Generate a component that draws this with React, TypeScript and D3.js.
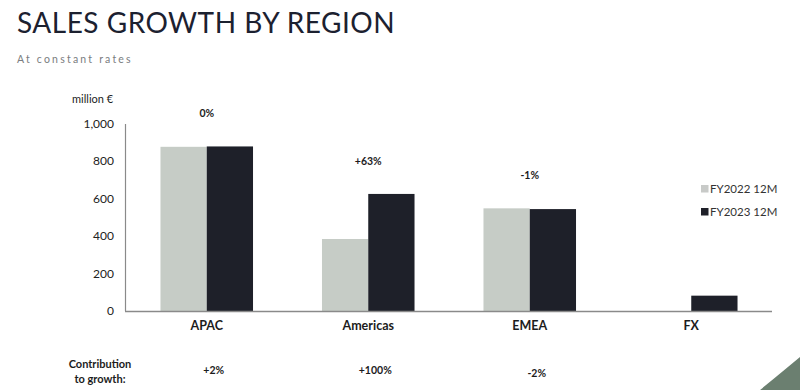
import React from "react";
import * as d3 from "d3";

const categories = ["APAC", "Americas", "EMEA", "FX"];
const series = ["FY2022 12M", "FY2023 12M"];
const fy2022 = [878, 385, 549, 0];
const fy2023 = [880, 626, 545, 82];
const growthLabels = ["0%", "+63%", "-1%", ""];
const contributionLabels = ["+2%", "+100%", "-2%", ""];
const yTicks = [0, 200, 400, 600, 800, 1000];

const W = 800;
const H = 390;
const FONT = "Lato, 'Noto Sans', sans-serif";
const colors = ["#c6ccc6", "#1e2029"];

export default function App() {
  const x0 = d3.scaleBand<string>().domain(categories).range([126, 772]).paddingInner(0.427).paddingOuter(0.2135);
  const x1 = d3.scaleBand<string>().domain(series).range([0, x0.bandwidth()]).padding(0);
  const y = d3.scaleLinear().domain([0, 1000]).range([311, 124]);
  const values = [fy2022, fy2023];
  const fmt = d3.format(",");

  return (
    <svg width={W} height={H} style={{ position: "absolute", left: 0, top: 0, background: "#fff" }} fontFamily={FONT}>
      <rect x={0} y={0} width={W} height={H} fill="#fff" />
      <text x={17} y={33} fontSize={28} fill="#1c2130" letterSpacing={0.5}>SALES GROWTH BY REGION</text>
      <text x={17} y={63} fontSize={10.5} fill="#7a7d80" letterSpacing={2.2}>At constant rates</text>
      <text x={72} y={103} fontSize={11} fill="#222">million €</text>

      {yTicks.map((t) => (
        <text key={t} x={114} y={y(t) + 4} fontSize={12} textAnchor="end" fill="#222">{fmt(t)}</text>
      ))}

      {categories.map((c, i) =>
        series.map((s, j) => {
          const v = values[j][i];
          if (!v) return null;
          return (
            <rect key={c + s} x={(x0(c) ?? 0) + (x1(s) ?? 0)} y={y(v)} width={x1.bandwidth()} height={y(0) - y(v)} fill={colors[j]} />
          );
        })
      )}

      <line x1={125.5} x2={125.5} y1={y(1000)} y2={y(0)} stroke="#8a8a8a" strokeWidth={1.2} />
      <line x1={125} x2={772} y1={y(0) + 0.5} y2={y(0) + 0.5} stroke="#8a8a8a" strokeWidth={1.5} />

      {categories.map((c) => (
        <text key={c} x={(x0(c) ?? 0) + x0.bandwidth() / 2} y={330} fontSize={12.5} fontWeight={700} textAnchor="middle" fill="#1c1c1c">{c}</text>
      ))}

      {categories.map((c, i) =>
        growthLabels[i] ? (
          <text key={"g" + c} x={(x0(c) ?? 0) + x0.bandwidth() / 2} y={y(Math.max(fy2022[i], fy2023[i])) - 29} fontSize={10.5} fontWeight={700} textAnchor="middle" fill="#1c1c1c">{growthLabels[i]}</text>
        ) : null
      )}

      {series.map((s, j) => (
        <g key={s} transform={`translate(701, ${189 + j * 23})`}>
          <rect x={0} y={-4} width={7.5} height={7.5} fill={j === 0 ? "#c8cac8" : colors[j]} />
          <text x={9} y={4} fontSize={11.5} fill="#333">{s}</text>
        </g>
      ))}

      <text x={100} y={368} fontSize={11} fontWeight={700} textAnchor="middle" fill="#1c1c1c">Contribution</text>
      <text x={100} y={383} fontSize={11} fontWeight={700} textAnchor="middle" fill="#1c1c1c">to growth:</text>
      {categories.map((c, i) =>
        contributionLabels[i] ? (
          <text key={"c" + c} x={(x0(c) ?? 0) + x0.bandwidth() / 2 + 7} y={374 + (i === 2 ? 3 : 0)} fontSize={10.5} fontWeight={700} textAnchor="middle" fill="#1c1c1c">{contributionLabels[i]}</text>
        ) : null
      )}

      <path d="M760,390 Q782,372 800,357 L800,390 Z" fill="#6b7f70" />
    </svg>
  );
}
